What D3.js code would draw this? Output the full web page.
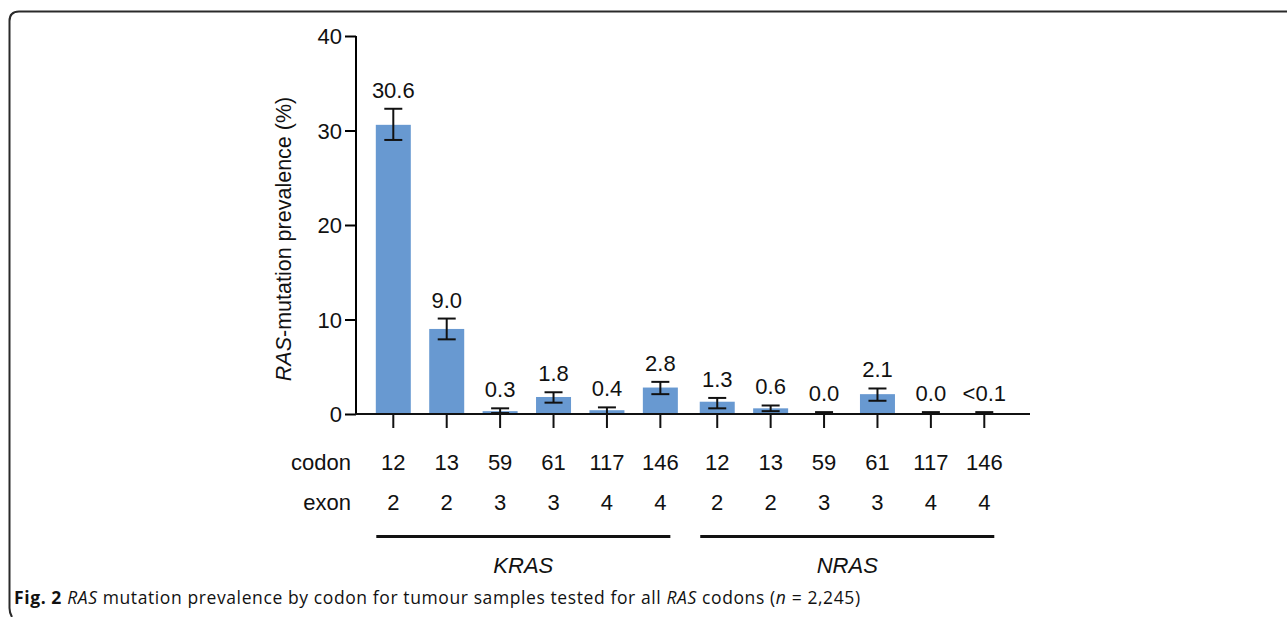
<!DOCTYPE html>
<html>
  <head>
    <meta charset="utf-8">
    <title>RAS mutation prevalence by codon</title>
    <script src="https://cdn.jsdelivr.net/npm/d3@7"></script>
    <style>
      body { margin: 0; background: #fff; }
      text { font-family: "Liberation Sans", Arial, sans-serif; fill: #111; }
    </style>
  </head>
  <body>
    <div id="main"></div>
    <script>
      var WIDTH = 1287, HEIGHT = 617;

      // data
      var genes = ['KRAS', 'NRAS'];
      var codons = ['12', '13', '59', '61', '117', '146'];
      var exons = ['2', '2', '3', '3', '4', '4'];
      var prevalence = [30.6, 9.0, 0.3, 1.8, 0.4, 2.8, 1.3, 0.6, 0.0, 2.1, 0.0, 0.05];
      var valueLabels = ['30.6', '9.0', '0.3', '1.8', '0.4', '2.8', '1.3', '0.6', '0.0', '2.1', '0.0', '<0.1'];
      var errLow = [29.0, 7.9, 0.1, 1.2, 0.0, 2.1, 0.6, 0.3, 0.0, 1.4, 0.0, 0.0];
      var errHigh = [32.3, 10.1, 0.6, 2.3, 0.7, 3.4, 1.7, 0.9, 0.2, 2.7, 0.2, 0.2];
      var yTicks = [0, 10, 20, 30, 40];

      var rows = [];
      genes.forEach(function(g, gi) {
        codons.forEach(function(c, ci) {
          var i = gi * codons.length + ci;
          rows.push({gene: g, gi: gi, codon: c, exon: exons[ci], pos: i + gi * 0.065,
                     value: prevalence[i], label: valueLabels[i], lo: errLow[i], hi: errHigh[i]});
        });
      });

      var svg = d3.select('#main').append('svg')
                  .attr('width', WIDTH).attr('height', HEIGHT);

      // frame around the figure
      svg.append('path')
        .attr('d', 'M1300,11.5 H19 Q9.5,11.5 9.5,21 V608 Q9.5,613 12,617')
        .attr('fill', 'none').attr('stroke', '#2a2a2a').attr('stroke-width', 2);

      var y = d3.scaleLinear().domain([0, 40]).range([414, 36]);
      var x = d3.scaleLinear().domain([0, 11]).range([393.3, 984.3 - 0.065 * 53.6]);
      var BAR = 35, CAP = 18, FS = '22px';

      // bars
      svg.selectAll('.bar').data(rows).enter()
        .append('rect')
          .attr('class', 'bar')
          .attr('x', function(d) { return x(d.pos) - BAR / 2; })
          .attr('width', BAR)
          .attr('y', function(d) { return y(d.value); })
          .attr('height', function(d) { return y(0) - y(d.value); })
          .attr('fill', '#6899d1');

      // error bars
      var err = svg.selectAll('.err').data(rows).enter().append('g')
        .attr('class', 'err').attr('stroke', '#111').attr('stroke-width', 2);
      err.append('line')
        .attr('x1', function(d) { return x(d.pos); }).attr('x2', function(d) { return x(d.pos); })
        .attr('y1', function(d) { return y(d.lo); }).attr('y2', function(d) { return y(d.hi); });
      err.append('line')
        .attr('x1', function(d) { return x(d.pos) - CAP / 2; }).attr('x2', function(d) { return x(d.pos) + CAP / 2; })
        .attr('y1', function(d) { return y(d.hi); }).attr('y2', function(d) { return y(d.hi); });
      err.append('line')
        .attr('x1', function(d) { return x(d.pos) - CAP / 2; }).attr('x2', function(d) { return x(d.pos) + CAP / 2; })
        .attr('y1', function(d) { return y(d.lo); }).attr('y2', function(d) { return y(d.lo); });

      // value labels
      svg.selectAll('.val').data(rows).enter()
        .append('text')
          .attr('class', 'val')
          .attr('x', function(d) { return x(d.pos); })
          .attr('y', function(d) { return y(d.hi) - 11; })
          .attr('text-anchor', 'middle')
          .style('font-size', FS)
          .text(function(d) { return d.label; });

      // y axis
      var yAxis = d3.axisLeft(y).tickValues(yTicks).tickSize(11).tickPadding(3);
      var gy = svg.append('g').attr('transform', 'translate(356,0)').call(yAxis);
      gy.select('.domain').attr('stroke-width', 2).attr('d', 'M0,36V414');
      gy.selectAll('.tick line').attr('stroke-width', 2);
      gy.selectAll('.tick text').style('font-size', FS)
        .style('font-family', '"Liberation Sans", Arial, sans-serif').attr('fill', '#111').attr('dy', '0.35em');

      // x axis line and ticks
      svg.append('line').attr('x1', 355).attr('x2', 1030).attr('y1', 414).attr('y2', 414)
        .attr('stroke', '#111').attr('stroke-width', 2);
      svg.selectAll('.xtick').data(rows).enter()
        .append('line')
          .attr('x1', function(d) { return x(d.pos); }).attr('x2', function(d) { return x(d.pos); })
          .attr('y1', 414).attr('y2', 428)
          .attr('stroke', '#111').attr('stroke-width', 2);

      // y axis title
      var yt = svg.append('text')
        .attr('transform', 'translate(291,239) rotate(-90)')
        .attr('text-anchor', 'middle')
        .style('font-size', '21.5px');
      yt.append('tspan').style('font-style', 'italic').text('RAS');
      yt.append('tspan').text('-mutation prevalence (%)');

      // codon / exon rows
      svg.append('text').attr('x', 351).attr('y', 470).attr('text-anchor', 'end')
        .style('font-size', FS).text('codon');
      svg.append('text').attr('x', 351).attr('y', 510).attr('text-anchor', 'end')
        .style('font-size', FS).text('exon');
      svg.selectAll('.codon').data(rows).enter()
        .append('text')
          .attr('x', function(d) { return x(d.pos); }).attr('y', 470)
          .attr('text-anchor', 'middle').style('font-size', FS)
          .text(function(d) { return d.codon; });
      svg.selectAll('.exon').data(rows).enter()
        .append('text')
          .attr('x', function(d) { return x(d.pos); }).attr('y', 510)
          .attr('text-anchor', 'middle').style('font-size', FS)
          .text(function(d) { return d.exon; });

      // gene brackets
      genes.forEach(function(g, gi) {
        var grp = rows.filter(function(d) { return d.gi === gi; });
        var x0 = x(grp[0].pos) - 17, x1 = x(grp[grp.length - 1].pos) + 10;
        svg.append('line').attr('x1', x0).attr('x2', x1).attr('y1', 536.5).attr('y2', 536.5)
          .attr('stroke', '#111').attr('stroke-width', 3);
        svg.append('text').attr('x', (x0 + x1) / 2).attr('y', 573)
          .attr('text-anchor', 'middle').style('font-size', FS).style('font-style', 'italic')
          .text(g);
      });

      // caption
      var cap = svg.append('text').attr('x', 14).attr('y', 604)
        .style('font-family', '"Open Sans", sans-serif').style('font-size', '17.5px')
        .style('letter-spacing', '0.6px');
      cap.append('tspan').style('font-weight', 'bold').text('Fig. 2 ');
      cap.append('tspan').style('font-style', 'italic').text('RAS');
      cap.append('tspan').text(' mutation prevalence by codon for tumour samples tested for all ');
      cap.append('tspan').style('font-style', 'italic').text('RAS');
      cap.append('tspan').text(' codons (');
      cap.append('tspan').style('font-style', 'italic').text('n');
      cap.append('tspan').text(' = 2,245)');
    </script>
  </body>
</html>
